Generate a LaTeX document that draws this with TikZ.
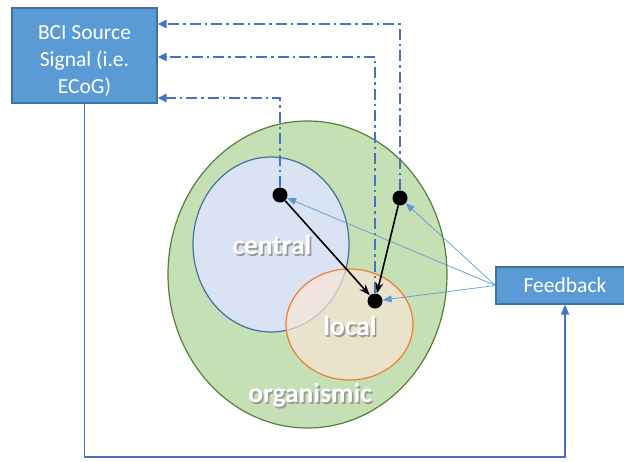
\documentclass[tikz,border=0pt]{standalone}
\usepackage{fontspec}
\setmainfont{Carlito}
\usepackage{tikz}
\usetikzlibrary{arrows.meta, positioning}
\definecolor{boxBlue}{HTML}{5B9BD5}
\definecolor{boxEdge}{HTML}{41719C}
\definecolor{lineBlue}{HTML}{4472C4}
\definecolor{orgGreen}{HTML}{C5E0B4}
\definecolor{orgEdge}{HTML}{548235}
\definecolor{cenBlue}{HTML}{DAE3F3}
\definecolor{cenEdge}{HTML}{41719C}
\definecolor{locFill}{HTML}{FBE5D6}
\definecolor{locEdge}{HTML}{ED7D31}
\newcommand{\shadowed}[1]{\makebox[0pt][l]{\hspace{1.6pt}\raisebox{-1.6pt}{\color{black!40}#1}}#1}

\begin{document}
\begin{tikzpicture}[x=1pt, y=-1pt,
    srcbox/.style={rectangle, fill=boxBlue, draw=boxEdge, line width=1.2pt, text=white, align=center},
    dot/.style={circle, fill=black, inner sep=0pt, minimum size=15pt},
    level/.style={text=white, font=\bfseries\fontsize{27.5}{33}\selectfont},
    sig/.style={lineBlue, line width=2pt, dash pattern=on 11pt off 4pt on 2.5pt off 4pt, -{Triangle[length=9pt,width=8pt]}},
    fbin/.style={boxBlue, line width=0.7pt, -{Triangle[length=9pt,width=7pt]}},
    push/.style={black, line width=1.6pt, -{Stealth[length=11pt,width=8pt]}}]
    \path[use as bounding box] (0,0) rectangle (624,461);
    \clip (0,0) rectangle (624,461);

    % Nested levels
    \draw[fill=orgGreen, draw=orgEdge, line width=1.2pt] (307.5,274.5) ellipse [x radius=139.5pt, y radius=153.5pt];
    \draw[fill=cenBlue, draw=cenEdge, line width=1.2pt] (271,244.5) ellipse [x radius=78pt, y radius=87.5pt];
    \draw[fill=locFill, fill opacity=0.7, draw=locEdge, line width=1.2pt] (349.5,324.5) ellipse [x radius=63.5pt, y radius=55.5pt];

    \node[level] (central) at (272,246) {\shadowed{central}};
    \node[level] (local) at (350,327) {\shadowed{local}};
    \node[level] (organismic) at (310,396) {\shadowed{organismic}};

    % Boxes
    \node[srcbox, minimum width=145pt, minimum height=95pt, font=\fontsize{21.5}{27}\selectfont] (bci) at (84.5,55.5) {\rule{0pt}{25pt}BCI Source\\Signal (i.e.\\ECoG)};
    \node[srcbox, minimum width=138pt, minimum height=37pt, font=\fontsize{21.5}{27}\selectfont] (feedback) at (565,285.5) {Feedback};

    % Recording points
    \node[dot] (cdot) at (280,195) {};
    \node[dot] (odot) at (400,198) {};
    \node[dot] (ldot) at (375,301) {};

    % Signals to the source
    \draw[sig] (cdot) |- ([yshift=-42.5pt]bci.east);
    \draw[sig] (ldot) |- ([yshift=-1.5pt]bci.east);
    \draw[sig] (odot) |- ([yshift=31.5pt]bci.east);

    % Feedback
    \draw[fbin] (feedback.west) -- (cdot);
    \draw[fbin] (feedback.west) -- (odot);
    \draw[fbin] (feedback.west) -- (ldot);
    \coordinate (low) at (0,457);
    \draw[lineBlue, line width=1.8pt, -{Triangle[length=10pt,width=8pt]}] (bci.south) -- (bci.south |- low) -| (feedback.south);

    % Influence on the local level
    \draw[push] (cdot) -- (ldot);
    \draw[push] (odot) -- (ldot);
\end{tikzpicture}
\end{document}
